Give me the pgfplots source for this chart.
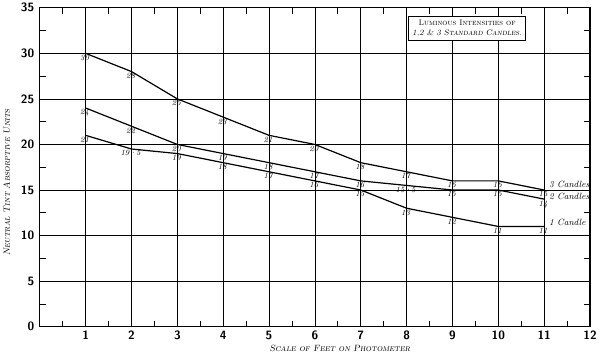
\documentclass[border=0pt]{standalone}
\usepackage{pgfplots}
\pgfplotsset{compat=1.18}
\usepackage{pgfplotstable}
\pgfplotstableread{
x y lab
1 30 30
2 28 28
3 25 25
4 23 23
5 21 21
6 20 20
7 18 18
8 17 17
9 16 16
10 16 16
11 15 15
}\threec
\pgfplotstableread{
x y lab
1 24 24
2 22 22
3 20 20
4 19 19
5 18 18
6 17 17
7 16 16
8 15.5 15·5
9 15 15
10 15 15
11 14 14
}\twoc
\pgfplotstableread{
x y lab
1 21 21
2 19.5 19·5
3 19 19
4 18 18
5 17 17
6 16 16
7 15 15
8 13 13
9 12 12
10 11 11
11 11 11
}\onec
\begin{document}
\begin{tikzpicture}
\begin{axis}[
  scale only axis, width=547pt, height=317pt,
  xmin=0, xmax=12, ymin=0, ymax=35,
  xtick={1,...,12}, ytick={0,5,...,35},
  minor xtick={0.5,1.5,...,11.5}, minor ytick={2.5,7.5,...,32.5},
  tick align=inside, major tick length=0pt, minor tick length=6pt,
  grid=major, major grid style={black, line width=0.7pt},
  axis line style={line width=1.3pt},
  tick style={black, line width=0.7pt},
  /pgf/number format/assume math mode=true,
  ticklabel style={font=\sffamily\bfseries\large},
  xticklabel style={yshift=-1pt},
  yticklabel style={xshift=-2pt},
  xlabel={\itshape\scshape\small Scale of Feet on Photometer},
  ylabel={\itshape\scshape\small Neutral Tint Absorptive Units},
  xlabel style={xshift=25pt, yshift=2pt},
  ylabel style={yshift=4pt, xshift=-15pt},
  nodes near coords, point meta=explicit symbolic,
  nodes near coords style={font=\footnotesize\itshape, black, anchor=north, inner sep=1pt, xshift=-1pt},
  clip=false,
]
\addplot[black, line width=1.2pt, mark=none] table[meta=lab] {\threec};
\addplot[black, line width=1.2pt, mark=none] table[meta=lab] {\twoc};
\addplot[black, line width=1.2pt, mark=none] table[meta=lab] {\onec};
\node[anchor=west, font=\small\itshape, inner sep=1pt] at (axis cs:11.08,15.6) {3 Candles};
\node[anchor=west, font=\small\itshape, inner sep=1pt] at (axis cs:11.08,14.3) {2 Candles};
\node[anchor=west, font=\small\itshape, inner sep=1pt] at (axis cs:11.08,11.4) {1 Candle};
\node[draw, fill=white, line width=0.7pt, align=center, font=\footnotesize, inner sep=3.5pt]
  at (axis cs:9.32,32.75) {\textsc{Luminous Intensities of}\\ {\itshape\scshape 1,2 \& 3 Standard Candles.}};
\end{axis}
\end{tikzpicture}
\end{document}
